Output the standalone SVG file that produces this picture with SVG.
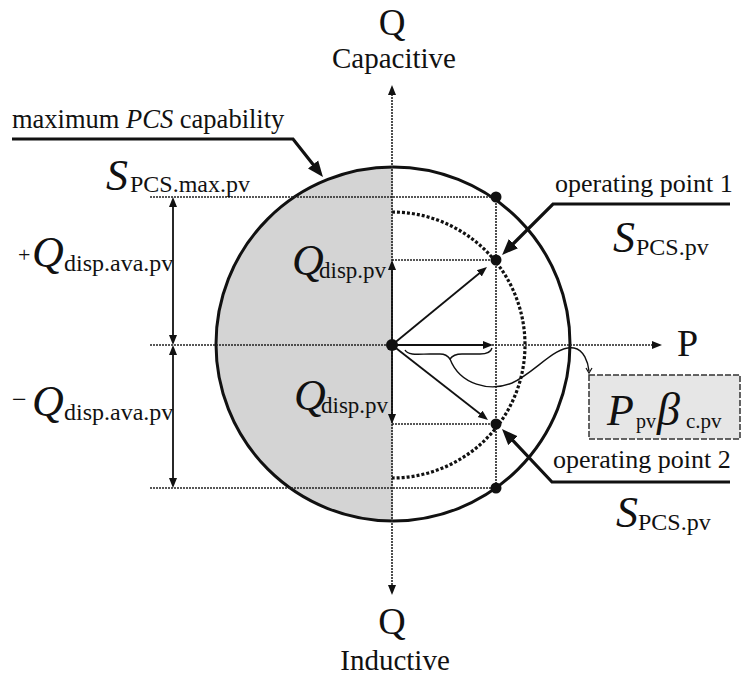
<svg xmlns="http://www.w3.org/2000/svg" width="742" height="680" viewBox="0 0 742 680" font-family="Liberation Serif, DejaVu Serif, serif">
<style>
text, tspan { font-family: 'Liberation Serif', 'DejaVu Serif', serif; fill: #111; }
.it { font-style: italic; }
.dot { stroke: #222; stroke-width: 1.6; stroke-dasharray: 2,1; fill: none; }
.thin { stroke: #111; stroke-width: 1.8; fill: none; }
.lead { stroke: #111; stroke-width: 3.2; fill: none; }
.pt { fill: #111; }
</style>
<defs>
<marker id="sa" markerUnits="userSpaceOnUse" markerWidth="12" markerHeight="10" refX="1" refY="4" orient="auto-start-reverse" viewBox="0 0 12 8"><path d="M0,0 L10,4 L0,8 z" fill="#111"/></marker>
<marker id="ba" markerUnits="userSpaceOnUse" markerWidth="18" markerHeight="14" refX="2" refY="6.5" orient="auto" viewBox="0 0 18 13"><path d="M0,0 L16,6.5 L0,13 z" fill="#111"/></marker>
</defs>
<rect width="742" height="680" fill="#fff"/>

<g id="capability-circle">
<path d="M393,167 A177,177 0 0 0 393,521 Z" fill="#d4d4d4"/>
<circle cx="393" cy="344" r="177" fill="none" stroke="#111" stroke-width="3"/>
<path d="M392,212 A133,133 0 0 1 392,478" fill="none" stroke="#111" stroke-width="3.2" stroke-dasharray="3,2"/>
</g>

<g id="connectors">
<line class="dot" x1="150" y1="197" x2="496" y2="197"/>
<line class="dot" x1="150" y1="488" x2="496" y2="488"/>
<line class="dot" x1="150" y1="345" x2="653" y2="345" marker-end="url(#sa)"/>
<line class="dot" x1="392" y1="260" x2="496" y2="260"/>
<line class="dot" x1="392" y1="424" x2="496" y2="424"/>
<line class="dot" x1="496" y1="197" x2="496" y2="488"/>
<line class="dot" x1="392" y1="94" x2="392" y2="586" marker-start="url(#sa)" marker-end="url(#sa)"/>
<line class="thin" x1="392" y1="345" x2="392" y2="269" marker-end="url(#sa)"/>
<line class="thin" x1="392" y1="345" x2="392" y2="415" marker-end="url(#sa)"/>
<line class="thin" x1="392" y1="345" x2="484" y2="345" marker-end="url(#sa)"/>
<line class="thin" x1="392" y1="345" x2="480" y2="272.7" marker-end="url(#sa)"/>
<line class="thin" x1="392" y1="345" x2="480.9" y2="414.5" marker-end="url(#sa)"/>
<line class="thin" x1="173" y1="206" x2="173" y2="336" marker-start="url(#sa)" marker-end="url(#sa)"/>
<line class="thin" x1="173" y1="354" x2="173" y2="479" marker-start="url(#sa)" marker-end="url(#sa)"/>
<path class="lead" d="M12,139 L293,139 L314.3,166" marker-end="url(#ba)"/>
<path class="lead" d="M730,204 L553,204 L512,245" marker-end="url(#ba)"/>
<path class="lead" d="M730,482 L552,482 L511.6,439.2" marker-end="url(#ba)"/>
<path d="M405,350 C408,356 420,354 430,354 L440,354 C446,354 448,356 450,359 C452,356 455,354 462,354 L480,354 C488,354 491,352 492,348" fill="none" stroke="#111" stroke-width="1.4"/>
<path d="M450,359 C460,385 490,392 512,383 C536,372 555,345 574,348 C584,350 588,362 589,371" fill="none" stroke="#111" stroke-width="1.4"/>
<path d="M586,368 L589,373 L592,368" fill="none" stroke="#111" stroke-width="1.2"/>
</g>

<g id="points">
<circle class="pt" cx="392" cy="345" r="6"/>
<circle class="pt" cx="496" cy="197" r="5.5"/>
<circle class="pt" cx="496" cy="260" r="5.5"/>
<circle class="pt" cx="496" cy="424" r="5.5"/>
<circle class="pt" cx="496" cy="488" r="5.5"/>
</g>

<g id="axis-q-top">
<text x="392" y="35" font-size="37" text-anchor="middle">Q</text>
<text x="394" y="68" font-size="29" text-anchor="middle">Capacitive</text>
</g>
<g id="axis-q-bottom">
<text x="392" y="634" font-size="38" text-anchor="middle">Q</text>
<text x="395" y="670" font-size="29" text-anchor="middle">Inductive</text>
</g>
<g id="axis-p">
<text x="677" y="356" font-size="38">P</text>
</g>

<g id="label-max-pcs">
<text x="12" y="128" font-size="26.5">maximum <tspan class="it">PCS</tspan> capability</text>
</g>
<g id="label-s-max">
<text><tspan x="106" y="190" class="it" font-size="44">S</tspan><tspan x="130" y="192" font-size="24">PCS.max.pv</tspan></text>
</g>
<g id="label-q-plus">
<text><tspan x="18" y="262" font-size="22">+</tspan><tspan x="32" y="267" class="it" font-size="44">Q</tspan><tspan x="64" y="271" font-size="24">disp.ava.pv</tspan></text>
</g>
<g id="label-q-minus">
<text><tspan x="12" y="408" font-size="26">−</tspan><tspan x="32" y="416" class="it" font-size="44">Q</tspan><tspan x="64" y="420" font-size="24">disp.ava.pv</tspan></text>
</g>
<g id="label-qdisp-up">
<text><tspan x="292" y="275" class="it" font-size="44">Q</tspan><tspan x="319" y="278" font-size="23">disp.pv</tspan></text>
</g>
<g id="label-qdisp-down">
<text><tspan x="294" y="410" class="it" font-size="44">Q</tspan><tspan x="321" y="413" font-size="23">disp.pv</tspan></text>
</g>
<g id="label-op1">
<text x="555" y="192" font-size="26">operating point 1</text>
<text><tspan x="613" y="252" class="it" font-size="44">S</tspan><tspan x="636" y="255" font-size="24">PCS.pv</tspan></text>
</g>
<g id="label-op2">
<text x="553" y="468" font-size="26">operating point 2</text>
<text><tspan x="616" y="527" class="it" font-size="44">S</tspan><tspan x="638" y="530" font-size="24">PCS.pv</tspan></text>
</g>
<g id="box-p-beta">
<rect x="589" y="375" width="151" height="64" fill="#e6e6e6" stroke="#333" stroke-width="1.5" stroke-dasharray="6,2"/>
<text><tspan x="607" y="425" class="it" font-size="44">P</tspan><tspan x="636" y="428" font-size="20">pv</tspan><tspan x="657" y="425" class="it" font-size="46">β</tspan><tspan x="686" y="428" font-size="21">c.pv</tspan></text>
</g>
</svg>
